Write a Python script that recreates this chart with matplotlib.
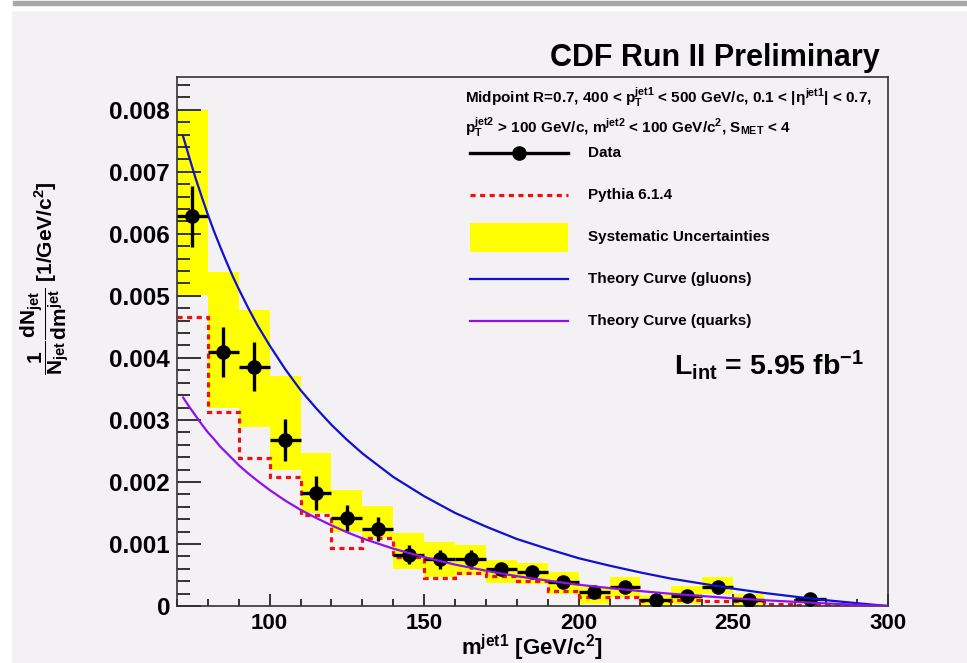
import matplotlib
matplotlib.use('Agg')
import matplotlib.pyplot as plt
import numpy as np
from matplotlib.ticker import MultipleLocator, FuncFormatter
from matplotlib.lines import Line2D
from matplotlib.patches import Rectangle

plt.rcParams['font.family'] = ['Liberation Sans', 'DejaVu Sans']
plt.rcParams['font.weight'] = 'bold'
plt.rcParams['mathtext.fontset'] = 'custom'
plt.rcParams['mathtext.rm'] = 'Liberation Sans:bold'
plt.rcParams['mathtext.it'] = 'Liberation Sans:bold'
plt.rcParams['mathtext.bf'] = 'Liberation Sans:bold'
plt.rcParams['mathtext.sf'] = 'Liberation Sans:bold'

# --- data ---
bin_edges = [70, 80, 90, 100, 110, 120, 130, 140, 150, 160, 170, 180, 190, 200,
             210, 220, 230, 240, 250, 260, 270, 280, 290, 300]

# Pythia 6.1.4 histogram (one value per bin)
pythia = [0.00466, 0.00313, 0.00238, 0.00208, 0.00146, 0.00093, 0.00109, 0.00079,
          0.00045, 0.00053, 0.00048, 0.00041, 0.00024, 0.00015, 0.00015, 0.00008,
          0.00010, 0.00008, 0.00008, 0.00004, 0.00001, 0.00001, 0.0]

# systematic uncertainty band per bin
syst_lo = [0.00502, 0.00320, 0.00289, 0.00219, 0.00150, 0.00120, 0.00110, 0.00059,
           0.00047, 0.00050, 0.00037, 0.00035, 0.00020, 0.00004, 0.00015, 0.0,
           0.00003, 0.00020, 0.0]
syst_hi = [0.00800, 0.00539, 0.00478, 0.00371, 0.00247, 0.00187, 0.00162, 0.00118,
           0.00103, 0.00098, 0.00074, 0.00070, 0.00054, 0.00030, 0.00046, 0.00017,
           0.00032, 0.00047, 0.00020]

# data points
data_m = [75, 85, 95, 105, 115, 125, 135, 145, 155, 165, 175, 185, 195, 205,
          215, 225, 235, 245, 255, 275]
data_y = [0.00628, 0.00409, 0.00386, 0.00268, 0.00182, 0.00142, 0.00124, 0.00083,
          0.00075, 0.00075, 0.00060, 0.00055, 0.00039, 0.00022, 0.00030, 0.00009,
          0.00016, 0.00030, 0.00009, 0.00012]
data_err = [0.00049, 0.00040, 0.00040, 0.00034, 0.00027, 0.00021, 0.00020, 0.00016,
            0.00015, 0.00015, 0.00010, 0.00010, 0.00008, 0.00007, 0.00007, 0.00005,
            0.00006, 0.00007, 0.00005, 0.00004]

# theory curves
theory_m = [72, 74, 76, 78, 80, 82, 84, 86, 88, 90, 93, 96, 100, 105, 110, 115, 120,
            125, 130, 140, 150, 160, 170, 180, 190, 200, 210, 220, 230, 240, 250,
            260, 270, 280, 290, 300]
gluons = [0.00757, 0.00723, 0.00690, 0.00660, 0.00631, 0.00604, 0.00579, 0.00555,
          0.00532, 0.00511, 0.00481, 0.00453, 0.00420, 0.00382, 0.00348, 0.00319,
          0.00292, 0.00268, 0.00246, 0.00208, 0.00177, 0.00150, 0.00128, 0.00108,
          0.00092, 0.00077, 0.00065, 0.00054, 0.00044, 0.00036, 0.00028, 0.00021,
          0.00015, 0.000094, 0.000045, 0.0]
quarks = [0.00336, 0.00321, 0.00307, 0.00293, 0.00280, 0.00269, 0.00257, 0.00247,
          0.00237, 0.00227, 0.00214, 0.00202, 0.00187, 0.00170, 0.00155, 0.00142,
          0.00130, 0.00119, 0.00109, 0.000924, 0.000787, 0.000667, 0.000569,
          0.000480, 0.000409, 0.000342, 0.000289, 0.000240, 0.000196, 0.000160,
          0.000124, 0.0000933, 0.0000667, 0.0000418, 0.00002, 0.0]

bg = '#f4f1f5'
fig = plt.figure(figsize=(9.67, 6.63), dpi=100, facecolor=bg)
ax = fig.add_axes((0.183, 0.086, 0.735, 0.798))
ax.set_facecolor(bg)

# systematic band
edges = np.array(bin_edges)
n_syst = len(syst_lo)
lo = np.array(syst_lo)
hi = np.array(syst_hi)
ax.bar(edges[:n_syst], hi - lo, bottom=lo, width=10, align='edge',
       color='#ffff00', linewidth=0, zorder=1)

# pythia histogram
ax.stairs(pythia, bin_edges, baseline=None, color='#ee1111', linewidth=2.3,
          linestyle=(0, (1.6, 1.4)), zorder=2)

# data
ax.errorbar(data_m, data_y, yerr=data_err, xerr=5, fmt='o', color='black',
            markersize=9.5, elinewidth=2.4, capsize=0, zorder=3)

# theory curves
ax.plot(theory_m, gluons, color='#1010d0', linewidth=1.6, zorder=4)
ax.plot(theory_m, quarks, color='#9010ee', linewidth=1.6, zorder=4)

ax.set_xlim(70, 300)
ax.set_ylim(0, 0.00853)

ax.xaxis.set_major_locator(MultipleLocator(50))
ax.xaxis.set_minor_locator(MultipleLocator(10))
ax.yaxis.set_major_locator(MultipleLocator(0.001))
ax.yaxis.set_minor_locator(MultipleLocator(0.0002))
ax.yaxis.set_major_formatter(FuncFormatter(lambda v, p: '0' if abs(v) < 1e-9 else f'{v:.3f}'))
ax.xaxis.set_major_formatter(FuncFormatter(lambda v, p: f'{v:.0f}' if v > 70 else ''))

ax.tick_params(axis='y', which='major', direction='in', length=17, width=1.1,
               labelsize=17.5, pad=5, right=False)
ax.tick_params(axis='y', which='minor', direction='in', length=9, width=1.1, right=False)
ax.tick_params(axis='x', which='major', direction='in', length=8.5, width=1.1,
               labelsize=16, pad=5, top=False)
ax.tick_params(axis='x', which='minor', direction='in', length=5, width=1.1, top=False)
for lab in ax.get_xticklabels() + ax.get_yticklabels():
    lab.set_fontweight('bold')
for sp in ax.spines.values():
    sp.set_linewidth(1.2)
    sp.set_color('#333333')

ax.set_xlabel(r'm$^{jet1}$ [GeV/c$^2$]', fontsize=16, fontweight='bold', labelpad=-1)
fig.text(0.048, 0.58, r'$\dfrac{1}{N_{jet}}\dfrac{dN_{jet}}{dm^{jet}}$ [1/GeV/c$^2$]',
         rotation=90, ha='center', va='center', fontsize=15, fontweight='bold')

# title
fig.text(0.91, 0.912, 'CDF Run II Preliminary', ha='right', va='center',
         fontsize=22, fontweight='bold')

# legend (drawn in axes coordinates)
tr = ax.transAxes
ax.text(0.405, 0.962, r'Midpoint R=0.7, 400 < p$_T^{jet1}$ < 500 GeV/c, 0.1 < |$\eta^{jet1}$| < 0.7,',
        transform=tr, fontsize=11, fontweight='bold', va='center', ha='left')
ax.text(0.405, 0.905, r'p$_T^{jet2}$ > 100 GeV/c, m$^{jet2}$ < 100 GeV/c$^2$, S$_{MET}$ < 4',
        transform=tr, fontsize=11, fontweight='bold', va='center', ha='left')

sx0, sx1, tx = 0.412, 0.550, 0.578
ax.add_line(Line2D([sx0, sx1], [0.856, 0.856], transform=tr, color='black', linewidth=2.4))
ax.add_line(Line2D([0.481], [0.856], transform=tr, color='black', marker='o', markersize=9.5))
ax.add_line(Line2D([sx0, sx1], [0.777, 0.777], transform=tr, color='#ee1111',
                   linewidth=2.3, linestyle=(0, (1.6, 1.4))))
ax.add_patch(Rectangle((sx0, 0.669), sx1 - sx0, 0.055, transform=tr, color='#ffff00', linewidth=0))
ax.add_line(Line2D([sx0, sx1], [0.618, 0.618], transform=tr, color='#1010d0', linewidth=1.6))
ax.add_line(Line2D([sx0, sx1], [0.539, 0.539], transform=tr, color='#9010ee', linewidth=1.6))

labels = ['Data', 'Pythia 6.1.4', 'Systematic Uncertainties',
          'Theory Curve (gluons)', 'Theory Curve (quarks)']
for lab, yy in zip(labels, [0.856, 0.777, 0.698, 0.618, 0.539]):
    ax.text(tx, yy, lab, transform=tr, fontsize=11, fontweight='bold', va='center', ha='left')

ax.text(0.70, 0.437, r'L$_{int}$ = 5.95 fb$^{-1}$', transform=tr, fontsize=20.5,
        fontweight='bold', ha='left', va='baseline')

# screenshot frame: grey bar on top, white strip on the left
fig.patches.append(Rectangle((0, 0.985), 1, 0.015, transform=fig.transFigure,
                             color='white', zorder=0))
fig.patches.append(Rectangle((0.013, 0.992), 0.987, 0.006, transform=fig.transFigure,
                             color='#a8a8a8', zorder=1))
fig.patches.append(Rectangle((0, 0), 0.011, 1, transform=fig.transFigure,
                             color='white', zorder=0))

fig.savefig('out.png', dpi=100, facecolor=bg)
